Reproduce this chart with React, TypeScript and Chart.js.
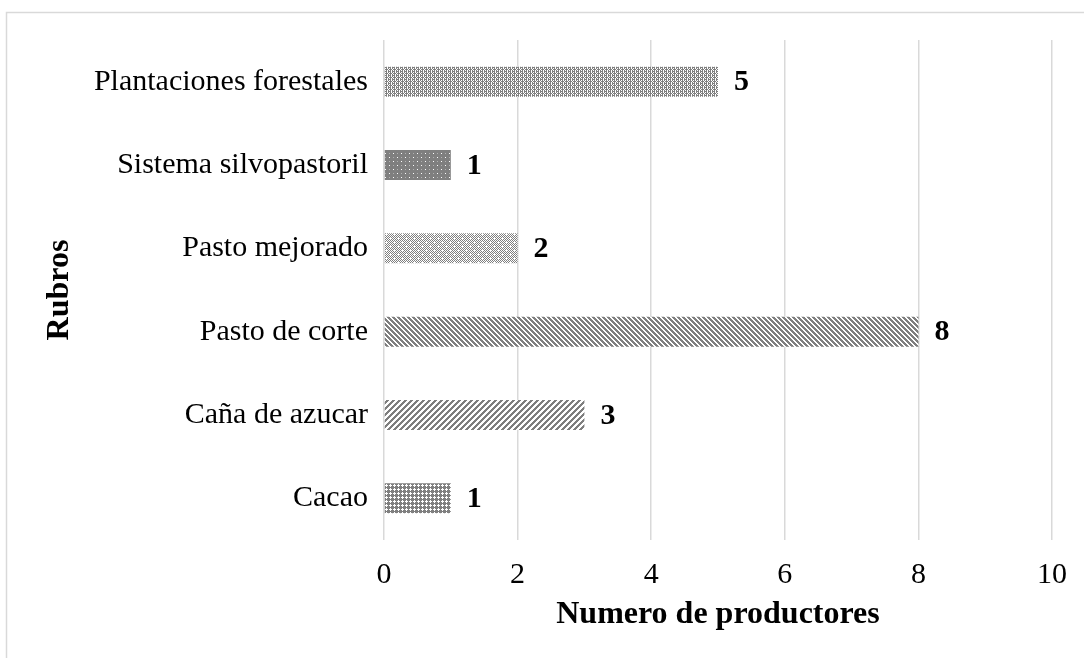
import React, { useEffect, useRef } from 'react';
import { Chart, registerables } from 'chart.js';

Chart.register(...registerables);

const categories = [
  'Plantaciones forestales',
  'Sistema silvopastoril',
  'Pasto mejorado',
  'Pasto de corte',
  'Caña de azucar',
  'Cacao',
];
const values = [5, 1, 2, 8, 3, 1];
const xMin = 0;
const xMax = 10;
const xStep = 2;
const xTitle = 'Numero de productores';
const yTitle = 'Rubros';

const FONT = '"Liberation Serif", "Times New Roman", serif';
const GRAY = '#7f7f7f';

function tilePattern(rows: string[], light?: string): CanvasPattern | string {
  const h = rows.length;
  const w = rows[0].length;
  const c = document.createElement('canvas');
  c.width = w;
  c.height = h;
  const ctx = c.getContext('2d');
  if (!ctx) return GRAY;
  for (let y = 0; y < h; y++) {
    for (let x = 0; x < w; x++) {
      const ch = rows[y][x];
      ctx.fillStyle = ch === 'G' ? GRAY : ch === 'L' ? (light || '#b0b0b0') : '#ffffff';
      ctx.fillRect(x, y, 1, 1);
    }
  }
  const p = ctx.createPattern(c, 'repeat');
  return p || GRAY;
}

function fnPattern(size: number, f: (x: number, y: number) => boolean): CanvasPattern | string {
  const rows: string[] = [];
  for (let y = 0; y < size; y++) {
    let r = '';
    for (let x = 0; x < size; x++) r += f(x, y) ? 'G' : '.';
    rows.push(r);
  }
  return tilePattern(rows);
}

function makePatterns() {
  const forest = tilePattern(['G.G.', '.GGG', 'G.G.', 'GGG.']);
  const silvo = tilePattern([
    'GGGGGGGG',
    'G.GGGLGG',
    'GGGGGGGG',
    'GGGGGGGG',
    'GGGGGGGG',
    'GLGGG.GG',
    'GGGGGGGG',
    'GGGGGGGG',
  ]);
  const mejorado = fnPattern(8, (x, y) => {
    if ((x === 2 && y === 2) || (x === 6 && y === 6)) return false;
    return (x + y) % 2 === 0;
  });
  const corte = fnPattern(5, (x, y) => (((x - y) % 5) + 5) % 5 < 3);
  const cana = fnPattern(6, (x, y) => (x + y) % 6 < 3);
  const cacao = tilePattern(['GG.G', 'G...', 'GG.G', 'GGGG']);
  return [forest, silvo, mejorado, corte, cana, cacao];
}

const borderPlugin = {
  id: 'outerBorder',
  beforeDraw(chart: any) {
    const ctx = chart.ctx;
    ctx.save();
    ctx.strokeStyle = '#d9d9d9';
    ctx.lineWidth = 1.5;
    ctx.beginPath();
    ctx.moveTo(6.5, chart.height + 5);
    ctx.lineTo(6.5, 12.5);
    ctx.lineTo(chart.width + 5, 12.5);
    ctx.stroke();
    ctx.restore();
  },
};

const valueLabelPlugin = {
  id: 'valueLabels',
  afterDatasetsDraw(chart: any) {
    const ctx = chart.ctx;
    const meta = chart.getDatasetMeta(0);
    const data = chart.data.datasets[0].data;
    ctx.save();
    ctx.fillStyle = '#000000';
    ctx.font = `bold 30px ${FONT}`;
    ctx.textAlign = 'left';
    ctx.textBaseline = 'middle';
    meta.data.forEach((bar: any, i: number) => {
      ctx.fillText(String(data[i]), bar.x + 16, bar.y + 1);
    });
    ctx.restore();
  },
};

export default function App() {
  const ref = useRef<HTMLCanvasElement | null>(null);

  useEffect(() => {
    document.body.style.margin = '0';
    document.body.style.background = '#ffffff';
    const canvas = ref.current;
    if (!canvas) return;
    const patterns = makePatterns();
    const chart = new Chart(canvas, {
      type: 'bar',
      data: {
        labels: categories,
        datasets: [
          {
            data: values,
            backgroundColor: patterns as any,
            borderWidth: 0,
            barPercentage: 0.36,
            categoryPercentage: 1,
          },
        ],
      },
      options: {
        indexAxis: 'y',
        animation: false,
        responsive: false,
        devicePixelRatio: 1,
        layout: { padding: { top: 40, right: 30, left: 0, bottom: 0 } },
        plugins: {
          legend: { display: false },
          tooltip: { enabled: false },
          title: { display: false },
        },
        scales: {
          x: {
            type: 'linear',
            min: xMin,
            max: xMax,
            ticks: {
              stepSize: xStep,
              color: '#000000',
              font: { family: FONT, size: 30 },
              padding: 17,
            },
            grid: {
              color: '#d9d9d9',
              lineWidth: 1.5,
              drawTicks: false,
            },
            border: { display: false },
            title: {
              display: true,
              text: xTitle,
              color: '#000000',
              font: { family: FONT, size: 32, weight: 'bold' },
              padding: { top: 0, bottom: 24 },
            },
            afterFit(scale: any) {
              scale.height = 118;
            },
          },
          y: {
            type: 'category',
            ticks: {
              color: '#000000',
              font: { family: FONT, size: 30 },
              padding: 16,
            },
            grid: { display: false, drawTicks: false },
            border: { display: false },
            title: {
              display: true,
              text: yTitle,
              color: '#000000',
              font: { family: FONT, size: 32, weight: 'bold' },
              padding: { top: 41, bottom: 0 },
            },
            afterFit(scale: any) {
              scale.width = 384;
            },
          },
        },
      },
      plugins: [borderPlugin, valueLabelPlugin],
    });
    return () => {
      chart.destroy();
    };
  }, []);

  return (
    <canvas
      ref={ref}
      width={1084}
      height={658}
      style={{ display: 'block', width: '1084px', height: '658px' }}
    />
  );
}
